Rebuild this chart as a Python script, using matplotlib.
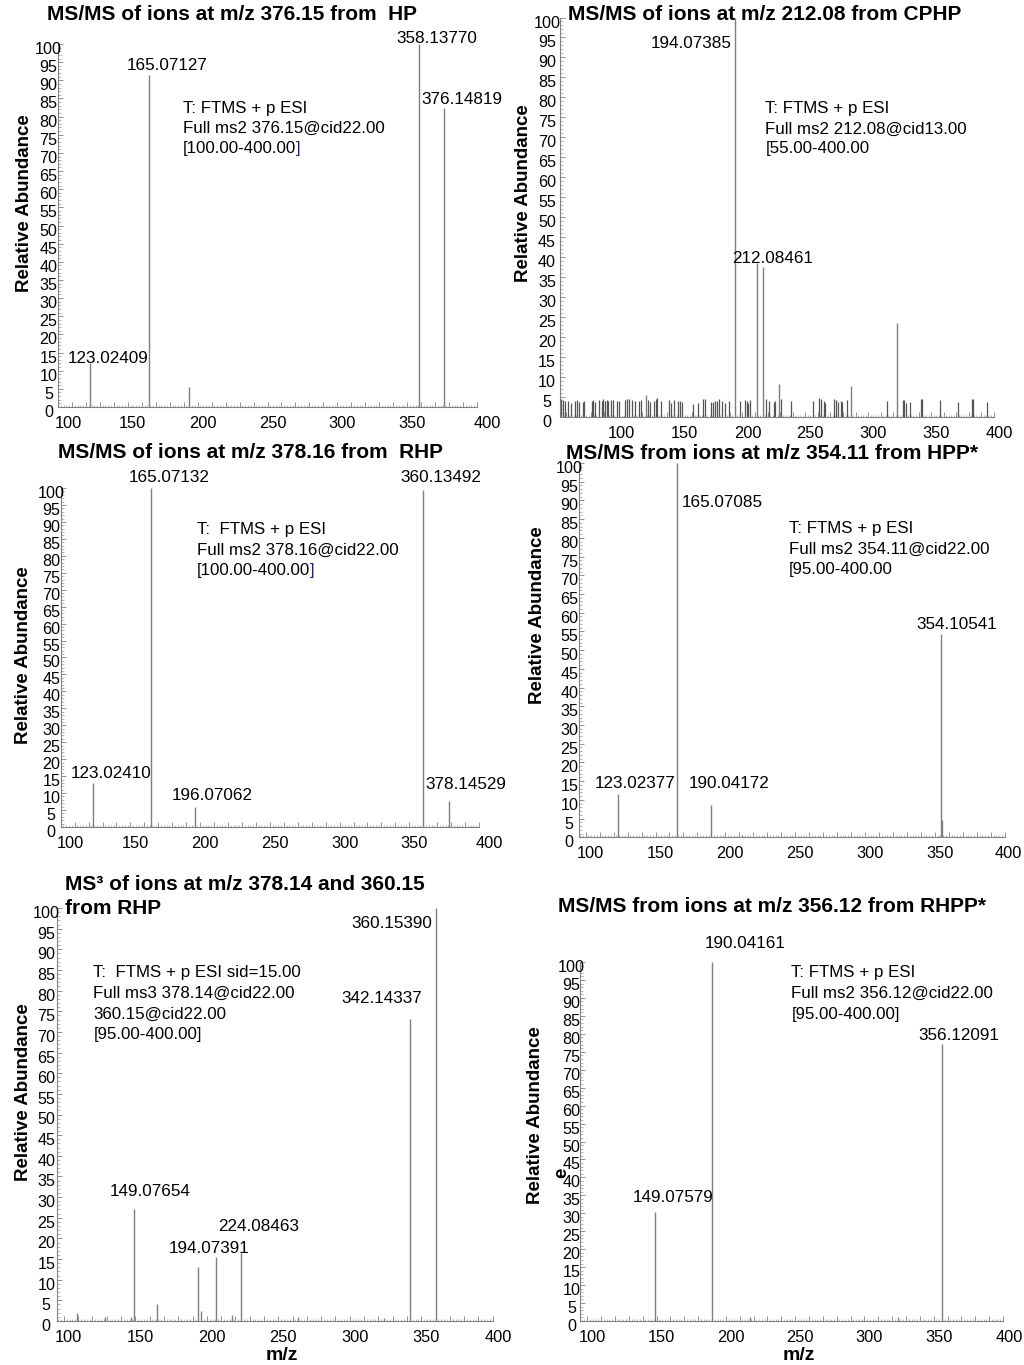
import matplotlib
matplotlib.use("Agg")
import matplotlib.pyplot as plt
from matplotlib.ticker import MultipleLocator
from matplotlib.transforms import ScaledTranslation

plt.rcParams['font.family'] = ['Liberation Sans', 'DejaVu Sans']

# ---------------- data ----------------
hp_mz = [123.02409, 165.07127, 193.8, 358.13770, 376.14819]
hp_int = [12.1, 91.5, 5.5, 100.0, 82.4]

cphp_mz = [123.4, 194.07385, 211.3, 216.6, 229.3, 286.1, 323.1]
cphp_int = [5.5, 100.0, 38.5, 37.6, 8.3, 7.7, 23.6]
cphp_noise_mz = [55.5, 57.1, 59.0, 61.6, 63.5, 66.9, 68.2, 70.4, 73.0, 74.1,
                 80.2, 81.0, 82.8, 86.3, 88.1, 88.9, 90.8, 92.1, 93.4, 95.3,
                 96.9, 100.1, 102.2, 106.7, 108.5, 110.1, 112.0, 114.6, 118.0, 119.1,
                 125.2, 126.5, 129.7, 131.3, 132.3, 135.1, 141.9, 143.0, 145.6, 149.1,
                 150.4, 151.7, 160.9, 164.9, 168.9, 170.2, 174.8, 176.4, 178.2, 179.6,
                 181.7, 183.5, 186.2, 189.6, 198.0, 202.0, 203.3, 204.6, 206.0, 219.0,
                 221.0, 225.0, 226.1, 230.4, 238.4, 255.9, 261.1, 262.2, 264.9, 265.7,
                 273.1, 274.4, 276.2, 278.1, 278.9, 283.4, 314.7, 327.4, 328.5, 330.0,
                 333.2, 341.7, 342.5, 357.1, 371.6, 382.3, 383.1, 394.7]
cphp_noise_int = [4.6, 4.3, 3.9, 4.0, 3.6, 4.1, 4.2, 3.8, 3.7, 4.0,
                  3.9, 4.2, 3.8, 4.3, 4.1, 4.4, 3.9, 4.3, 4.0, 4.2,
                  4.3, 4.1, 3.9, 4.2, 4.6, 4.4, 4.2, 4.1, 3.9, 4.3,
                  4.2, 3.8, 4.0, 4.4, 4.7, 3.9, 4.3, 3.6, 4.2, 4.0,
                  4.1, 3.8, 3.3, 3.6, 4.6, 4.5, 3.8, 3.7, 4.1, 4.0,
                  4.6, 3.9, 3.4, 4.1, 4.1, 4.2, 4.0, 3.6, 4.2, 4.5,
                  4.0, 3.8, 3.9, 4.6, 4.0, 4.0, 4.8, 4.6, 3.9, 3.6,
                  4.6, 4.3, 3.8, 3.9, 3.7, 4.2, 4.0, 4.3, 4.3, 3.6,
                  3.8, 4.6, 4.5, 4.2, 3.8, 4.5, 4.5, 3.7]

rhp_mz = [123.02410, 165.07132, 196.07062, 360.13492, 378.14529]
rhp_int = [12.9, 100.0, 6.0, 99.5, 7.8]

hpp_mz = [123.02377, 165.07085, 190.04172, 212.0, 354.10541, 355.1]
hpp_int = [11.6, 100.0, 8.5, 0.6, 54.2, 4.6]

ms3_mz = [109.0, 128.8, 147.0, 149.07654, 165.0, 194.07391, 196.0, 206.2,
          217.8, 224.08463, 263.8, 323.9, 342.14337, 360.15390]
ms3_int = [2.0, 1.0, 1.0, 27.0, 4.1, 13.0, 2.5, 15.6, 1.5, 16.5, 1.0, 0.8, 73.1, 100.0]

rhpp_mz = [149.07579, 190.04161, 217.7, 324.0, 356.12091]
rhpp_int = [30.4, 100.0, 1.0, 1.0, 77.1]

y_ticks = list(range(0, 101, 5))
x_ticks = [100, 150, 200, 250, 300, 350, 400]

# ---------------- figure ----------------
W, H = 1024, 1365
fig = plt.figure(figsize=(W / 100, H / 100), dpi=100)
PEAK = '#7f7f7f'


def ptext(x, y, s, size=12.2, weight='normal', ha='center', va='center',
          rotation=0, color='black'):
    return fig.text(x / W, 1 - y / H, s, fontsize=size, fontweight=weight,
                    ha=ha, va=va, rotation=rotation, color=color)


def make_axes(left, right, base, top, xlim, ytl_dx, edge_dx=(10, 10)):
    ax = fig.add_axes([left / W, 1 - base / H, (right - left) / W, (base - top) / H])
    ax.set_xlim(*xlim)
    ax.set_ylim(0, 100)
    for s in ('top', 'right'):
        ax.spines[s].set_visible(False)
    for s in ('left', 'bottom'):
        ax.spines[s].set_color('#808080')
        ax.spines[s].set_linewidth(0.8)
    ax.xaxis.set_major_locator(MultipleLocator(10))
    ax.xaxis.set_minor_locator(MultipleLocator(2))
    ax.yaxis.set_major_locator(MultipleLocator(5))
    ax.yaxis.set_minor_locator(MultipleLocator(1))
    ax.tick_params(which='major', direction='in', length=3.5, width=0.6,
                   color='#808080', labelbottom=False, labelleft=False)
    ax.tick_params(which='minor', direction='in', length=1.8, width=0.5, color='#999999')
    ax.patch.set_alpha(0)
    ytr = ax.get_yaxis_transform() + ScaledTranslation(-ytl_dx / 100, -5.5 / 100, fig.dpi_scale_trans)
    for v in y_ticks:
        ax.text(0, v, str(v), transform=ytr, ha='center', va='center', fontsize=11.6)
    for v in x_ticks:
        if v < xlim[0] or v > xlim[1]:
            continue
        if v == xlim[0]:
            dx = edge_dx[0]
        elif v == xlim[1]:
            dx = edge_dx[1]
        else:
            dx = 5
        xtr = ax.get_xaxis_transform() + ScaledTranslation(dx / 100, -16.5 / 100, fig.dpi_scale_trans)
        ax.text(v, 0, str(v), transform=xtr, ha='center', va='center', fontsize=11.8)
    return ax


def info_block(x, ys, lines, navy_bracket=False):
    last = None
    for y, s in zip(ys, lines):
        last = ptext(x, y, s, ha='left')
    if navy_bracket:
        fig.axes[-1].annotate(']', xy=(1, 0), xycoords=last, ha='left', va='bottom',
                              fontsize=12.2, color='#1c1c8c')


def ylabel(x, y):
    ptext(x, y, 'Relative Abundance', size=13.5, weight='bold', rotation=90)


# ---- Panel 1: HP ----
ax1 = make_axes(58, 477, 407, 44, (100, 400), 9.5)
ax1.vlines(hp_mz, 0, hp_int, colors=PEAK, lw=1.0, clip_on=False)
ptext(231.7, 15, 'MS/MS of ions at m/z 376.15 from  HP', size=15, weight='bold')
for s, x, y in [("358.13770", 436.7, 38.3), ("165.07127", 166.7, 66),
                ("376.14819", 461.7, 99.3), ("123.02409", 107.7, 358.3)]:
    ptext(x, y, s, size=12.3)
info_block(182.7, [108, 128.5, 149],
           ["T: FTMS + p ESI", "Full ms2 376.15@cid22.00", "[100.00-400.00"], True)
ylabel(25, 203)

# ---- Panel 2: CPHP ----
ax2 = make_axes(560, 994, 417, 17.5, (55, 400), 13, (10, 5))
ax2.vlines(cphp_noise_mz, 0, cphp_noise_int, colors='#555555', lw=0.9, clip_on=False)
ax2.vlines(cphp_mz, 0, cphp_int, colors=PEAK, lw=1.0, clip_on=False)
ptext(765, 15, 'MS/MS of ions at m/z 212.08 from CPHP', size=15, weight='bold')
for s, x, y in [("194.07385", 691, 43.3), ("212.08461", 773, 258.3)]:
    ptext(x, y, s, size=12.3)
info_block(765.3, [108, 129, 149],
           ["T: FTMS + p ESI", "Full ms2 212.08@cid13.00", "[55.00-400.00"])
ylabel(523.7, 193)

# ---- Panel 3: RHP ----
ax3 = make_axes(60.7, 479, 827, 488, (100, 400), 9.4)
ax3.vlines(rhp_mz, 0, rhp_int, colors=PEAK, lw=1.0, clip_on=False)
ptext(250.7, 452.7, 'MS/MS of ions at m/z 378.16 from  RHP', size=15, weight='bold')
for s, x, y in [("165.07132", 169, 477.3), ("360.13492", 440.7, 477.3),
                ("123.02410", 110.7, 773.3), ("196.07062", 212.3, 796),
                ("378.14529", 466, 784.3)]:
    ptext(x, y, s, size=12.3)
info_block(196.7, [529.3, 550, 570],
           ["T:  FTMS + p ESI", "Full ms2 378.16@cid22.00", "[100.00-400.00"], True)
ylabel(23.3, 655)

# ---- Panel 4: HPP* ----
ax4 = make_axes(578.7, 1004.7, 837.3, 463, (95, 400), 9.4, (10, 4))
ax4.vlines(hpp_mz, 0, hpp_int, colors=PEAK, lw=1.0, clip_on=False)
ptext(772, 453.3, 'MS/MS from ions at m/z 354.11 from HPP*', size=15, weight='bold')
for s, x, y in [("165.07085", 722, 502.7), ("354.10541", 957, 625),
                ("123.02377", 635.3, 784), ("190.04172", 728.7, 784)]:
    ptext(x, y, s, size=12.3)
info_block(788.7, [529, 549, 569],
           ["T: FTMS + p ESI", "Full ms2 354.11@cid22.00", "[95.00-400.00"])
ylabel(537, 615)

# ---- Panel 5: MS3 RHP ----
ax5 = make_axes(56.7, 492.7, 1321, 908, (95, 400), 10.4, (10, 6))
ax5.vlines(ms3_mz, 0, ms3_int, colors=PEAK, lw=1.0, clip_on=False)
ptext(65, 885, 'MS³ of ions at m/z 378.14 and 360.15', size=15, weight='bold', ha='left')
ptext(65, 908.3, 'from RHP', size=15, weight='bold', ha='left')
for s, x, y in [("360.15390", 391.7, 923.3), ("342.14337", 381.7, 998.3),
                ("149.07654", 150, 1191.7), ("224.08463", 258.3, 1226.7),
                ("194.07391", 209, 1248.3)]:
    ptext(x, y, s, size=12.3)
info_block(93.3, [973, 993.5, 1014, 1034],
           ["T:  FTMS + p ESI sid=15.00", "Full ms3 378.14@cid22.00",
            "360.15@cid22.00", "[95.00-400.00]"])
ylabel(23.3, 1091.7)
ptext(281.7, 1355, 'm/z', size=14, weight='bold')

# ---- Panel 6: RHPP* ----
ax6 = make_axes(580.3, 1003, 1321, 962, (95, 400), 8.7, (10, 6))
ax6.vlines(rhpp_mz, 0, rhpp_int, colors=PEAK, lw=1.0, clip_on=False)
ptext(772, 906.7, 'MS/MS from ions at m/z 356.12 from RHPP*', size=15, weight='bold')
for s, x, y in [("190.04161", 744.7, 944), ("356.12091", 958.7, 1035),
                ("149.07579", 673, 1197.3)]:
    ptext(x, y, s, size=12.3)
info_block(791.3, [973, 993.5, 1014],
           ["T: FTMS + p ESI", "Full ms2 356.12@cid22.00", "[95.00-400.00]"])
ylabel(535.3, 1115)
ptext(562, 1173, 'e', size=13.5, weight='bold', rotation=90)
ptext(798.7, 1355, 'm/z', size=14, weight='bold')

fig.savefig('out.png', dpi=100, facecolor='white')
